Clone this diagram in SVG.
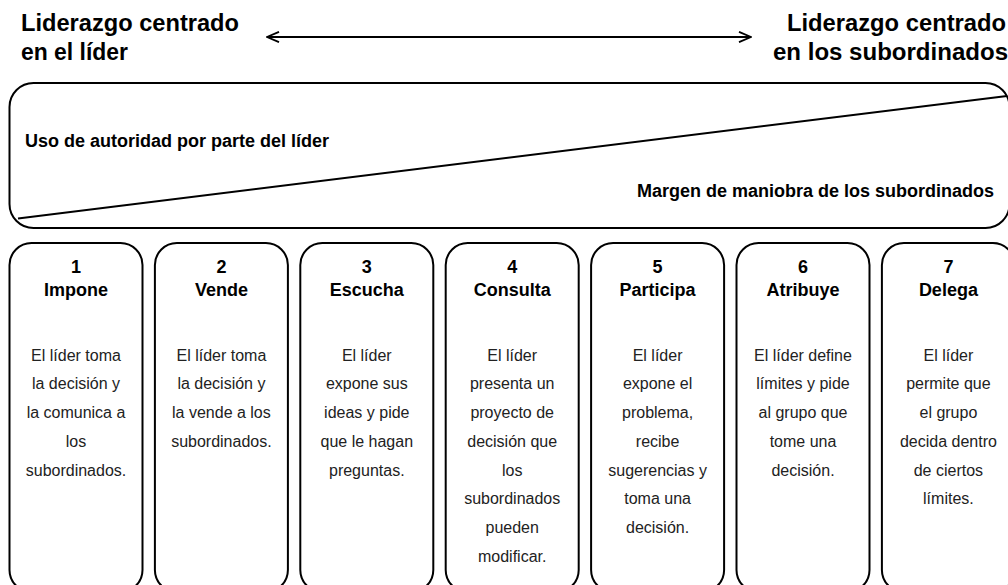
<svg xmlns="http://www.w3.org/2000/svg" width="1008" height="585" viewBox="0 0 1008 585">
<defs>
<marker id="ah" viewBox="0 0 14 12" markerWidth="14" markerHeight="12" refX="13" refY="6" orient="auto-start-reverse" markerUnits="userSpaceOnUse">
<path d="M1,0.8 L13,6 L1,11.2" fill="none" stroke="#000" stroke-width="1.8" stroke-linejoin="miter"/>
</marker>
<style>
.box{fill:#fff;stroke:#000;stroke-width:2}
.title{font-family:"Liberation Sans",Arial,sans-serif;font-weight:bold;font-size:23px;fill:#000}
.lbl{font-family:"Liberation Sans",Arial,sans-serif;font-weight:bold;font-size:18px;fill:#000}
.hd{font-family:"Liberation Sans",Arial,sans-serif;font-weight:bold;font-size:18px;fill:#000;text-anchor:middle}
.bd{font-family:"Liberation Sans",Arial,sans-serif;font-size:16px;fill:#222;text-anchor:middle}
</style>
</defs>
<rect width="1008" height="585" fill="#fff"/>
<g id="title-left">
<text class="title" x="21" y="31" textLength="218" lengthAdjust="spacingAndGlyphs">Liderazgo centrado</text>
<text class="title" x="21" y="60" textLength="107" lengthAdjust="spacingAndGlyphs">en el líder</text>
</g>
<g id="title-right">
<text class="title" x="787" y="31" textLength="219" lengthAdjust="spacingAndGlyphs">Liderazgo centrado</text>
<text class="title" x="773" y="60" textLength="235" lengthAdjust="spacingAndGlyphs">en los subordinados</text>
</g>
<g id="connectors">
<line x1="267" y1="37" x2="751" y2="37" stroke="#000" stroke-width="1.8" marker-start="url(#ah)" marker-end="url(#ah)"/>
</g>
<g id="authority-box">
<rect class="box" x="9.5" y="83" width="1000" height="145" rx="24" ry="24"/>
<line x1="18" y1="218.5" x2="1007" y2="96" stroke="#000" stroke-width="2"/>
<text class="lbl" x="25" y="147">Uso de autoridad por parte del líder</text>
<text class="lbl" x="994" y="197" text-anchor="end">Margen de maniobra de los subordinados</text>
</g>
<g id="col1">
<rect class="box" x="9.5" y="243" width="133" height="349" rx="22" ry="22"/>
<text class="hd" x="76" y="273">1</text>
<text class="hd" x="76" y="296">Impone</text>
<text class="bd" x="76" y="360.5">El líder toma</text>
<text class="bd" x="76" y="389.25">la decisión y</text>
<text class="bd" x="76" y="418">la comunica a</text>
<text class="bd" x="76" y="446.75">los</text>
<text class="bd" x="76" y="475.5">subordinados.</text>
</g>
<g id="col2">
<rect class="box" x="154.9" y="243" width="133" height="349" rx="22" ry="22"/>
<text class="hd" x="221.4" y="273">2</text>
<text class="hd" x="221.4" y="296">Vende</text>
<text class="bd" x="221.4" y="360.5">El líder toma</text>
<text class="bd" x="221.4" y="389.25">la decisión y</text>
<text class="bd" x="221.4" y="418">la vende a los</text>
<text class="bd" x="221.4" y="446.75">subordinados.</text>
</g>
<g id="col3">
<rect class="box" x="300.3" y="243" width="133" height="349" rx="22" ry="22"/>
<text class="hd" x="366.8" y="273">3</text>
<text class="hd" x="366.8" y="296">Escucha</text>
<text class="bd" x="366.8" y="360.5">El líder</text>
<text class="bd" x="366.8" y="389.25">expone sus</text>
<text class="bd" x="366.8" y="418">ideas y pide</text>
<text class="bd" x="366.8" y="446.75">que le hagan</text>
<text class="bd" x="366.8" y="475.5">preguntas.</text>
</g>
<g id="col4">
<rect class="box" x="445.7" y="243" width="133" height="349" rx="22" ry="22"/>
<text class="hd" x="512.2" y="273">4</text>
<text class="hd" x="512.2" y="296">Consulta</text>
<text class="bd" x="512.2" y="360.5">El líder</text>
<text class="bd" x="512.2" y="389.25">presenta un</text>
<text class="bd" x="512.2" y="418">proyecto de</text>
<text class="bd" x="512.2" y="446.75">decisión que</text>
<text class="bd" x="512.2" y="475.5">los</text>
<text class="bd" x="512.2" y="504.25">subordinados</text>
<text class="bd" x="512.2" y="533">pueden</text>
<text class="bd" x="512.2" y="561.75">modificar.</text>
</g>
<g id="col5">
<rect class="box" x="591.1" y="243" width="133" height="349" rx="22" ry="22"/>
<text class="hd" x="657.6" y="273">5</text>
<text class="hd" x="657.6" y="296">Participa</text>
<text class="bd" x="657.6" y="360.5">El líder</text>
<text class="bd" x="657.6" y="389.25">expone el</text>
<text class="bd" x="657.6" y="418">problema,</text>
<text class="bd" x="657.6" y="446.75">recibe</text>
<text class="bd" x="657.6" y="475.5">sugerencias y</text>
<text class="bd" x="657.6" y="504.25">toma una</text>
<text class="bd" x="657.6" y="533">decisión.</text>
</g>
<g id="col6">
<rect class="box" x="736.5" y="243" width="133" height="349" rx="22" ry="22"/>
<text class="hd" x="803" y="273">6</text>
<text class="hd" x="803" y="296">Atribuye</text>
<text class="bd" x="803" y="360.5">El líder define</text>
<text class="bd" x="803" y="389.25">límites y pide</text>
<text class="bd" x="803" y="418">al grupo que</text>
<text class="bd" x="803" y="446.75">tome una</text>
<text class="bd" x="803" y="475.5">decisión.</text>
</g>
<g id="col7">
<rect class="box" x="881.9" y="243" width="133" height="349" rx="22" ry="22"/>
<text class="hd" x="948.4" y="273">7</text>
<text class="hd" x="948.4" y="296">Delega</text>
<text class="bd" x="948.4" y="360.5">El líder</text>
<text class="bd" x="948.4" y="389.25">permite que</text>
<text class="bd" x="948.4" y="418">el grupo</text>
<text class="bd" x="948.4" y="446.75">decida dentro</text>
<text class="bd" x="948.4" y="475.5">de ciertos</text>
<text class="bd" x="948.4" y="504.25">límites.</text>
</g>
</svg>
